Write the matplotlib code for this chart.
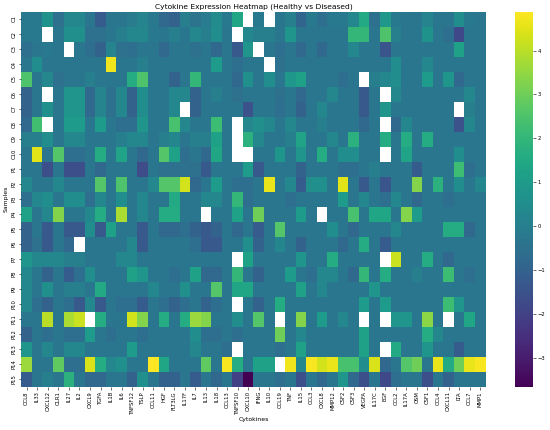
import numpy as np
import pandas as pd
import matplotlib
matplotlib.use("Agg")
import matplotlib.pyplot as plt
import seaborn as sns

nan = np.nan

cytokines = ["CCL8", "IL33", "CXCL12", "OLR1", "IL27", "IL2", "CXCL9", "TGFA", "IL1B", "IL6",
             "TNFSF12", "TSLP", "CCL11", "HGF", "FLT3LG", "IL17F", "IL7", "IL13", "IL18", "CCL13",
             "TNFSF10", "CXCL10", "IFNG", "IL10", "CCL19", "TNF", "IL15", "CCL3", "CXCL8", "MMP12",
             "CSF2", "CSF3", "VEGFA", "IL17C", "EGF", "CCL2", "IL17A", "OSM", "CSF1", "CCL4",
             "CXCL11", "LTA", "CCL7", "MMP1"]

samples = ["C1", "C2", "C3", "C4", "C5", "C6", "C7", "C8", "C9", "C10",
           "P1", "P2", "P3", "P4", "P5", "P6", "P7", "P8", "P9", "P10",
           "P11", "P12", "P13", "P14", "P15"]

C1 = [-0.2, -0.2, 0.7, -0.5, 0.3, 0.3, -0.3, -1.2, -0.3, -0.3, -0.1, 0.2, -0.2, -0.8, -1.0, 0.0, -0.4, -0.1, 0.4, -0.2, 1.4, nan,
      -0.2, nan, -0.3, 0.0, -0.9, -0.2, -0.6, -0.2, -0.2, 0.3, 1.5, -0.5, 0.9, -0.2, -0.3, -0.3, 0.2, -0.3, -0.3, 0.5, -0.2, -0.3]
C2 = [-0.2, -0.2, nan, -0.3, 0.6, 0.6, -0.5, -0.5, -0.3, 0.0, 0.3, 0.3, -0.2, -0.3, 0.0, -0.3, 0.3, 0.0, 0.5, -0.3, nan, 0.3,
      0.0, 0.0, -0.3, 0.8, -0.3, -0.3, -0.3, -0.3, -0.3, 2.0, 2.0, -0.3, 2.5, 0.0, -0.3, -0.3, 0.7, -0.3, -0.6, -1.8, -0.3, -0.3]
C3 = [-0.6, -0.3, -0.2, -0.3, nan, -0.3, -0.6, -1.0, 0.2, -0.5, -0.6, -0.3, -0.3, -0.8, -0.3, -0.3, -0.5, -0.3, -0.8, -0.3, -1.3, 0.8,
      nan, -0.3, -0.6, -0.3, -0.8, -0.3, -0.8, -0.3, -0.3, 0.3, -0.3, -0.3, -1.4, -0.3, -0.3, -0.3, -0.3, -0.3, -0.3, 1.2, -0.3, -0.3]
C4 = [-0.3, 0.5, -0.3, -0.3, -0.3, -0.3, -0.3, -0.3, 4.7, -0.3, -0.3, 0.0, -0.3, -0.3, -0.3, -0.3, -0.3, -0.3, 1.0, -0.3, -0.6, -0.3,
      -0.3, nan, -0.5, -0.3, -0.3, -0.3, -0.3, -0.3, -0.3, -0.3, -0.3, -0.3, -0.3, 0.5, -0.3, -0.3, 0.3, -0.3, -0.3, -0.3, -0.3, -0.3]
C5 = [2.5, -0.3, 0.3, -0.5, -0.3, -0.3, 0.0, -0.3, -0.3, -0.3, 1.6, 2.5, -0.3, -0.3, -1.0, -0.3, 2.0, -0.3, -0.3, -0.3, -0.8, 0.6,
      -0.3, 0.5, -0.3, 0.9, 1.2, -0.3, -0.3, -0.3, -0.6, -0.3, nan, 0.0, 0.3, 0.5, -0.3, -0.3, 1.0, -0.3, 0.8, -0.8, -0.3, -0.3]
C6 = [-1.0, -0.3, nan, -0.3, 0.8, 0.8, -0.8, 0.2, -0.5, 0.3, -1.0, 0.5, -0.3, -0.3, 0.3, 0.3, -1.0, -0.3, 0.0, -0.3, -0.5, -0.3,
      -0.3, -0.3, -0.5, -0.3, -0.8, -0.3, -0.3, 0.3, -0.3, -0.3, -1.3, -0.3, nan, 0.3, -0.3, -0.3, -0.3, -0.3, -0.3, -0.3, 0.3, -0.3]
C7 = [-1.0, -0.3, 0.6, -0.3, 0.8, 0.8, -0.8, 0.2, -0.5, 0.3, -1.0, 0.5, -0.3, -0.3, 0.3, nan, -1.0, -0.3, -0.3, -0.3, -0.3, -1.5,
      -0.3, -0.3, -0.6, -0.3, -1.0, -0.3, 0.3, -0.3, -0.3, -0.3, -1.3, -0.3, 0.8, -0.3, -0.3, -0.3, -0.3, -0.3, -0.3, nan, 0.0, -0.3]
C8 = [-0.8, 2.3, nan, -0.3, 1.0, 1.0, -0.3, 1.0, -0.3, -0.6, -0.6, 0.8, -0.3, -0.3, 2.4, 0.3, -0.3, -0.3, 2.2, -0.3, nan, 0.3,
      0.6, 0.3, -0.3, 0.3, -0.3, -0.3, 0.0, -0.3, -0.3, -0.3, -0.8, -0.3, nan, -0.8, 0.3, -0.3, -0.3, -0.3, -0.3, -1.5, 0.3, -0.3]
C9 = [0.0, 0.0, 0.5, -0.3, 0.3, 0.3, -0.3, -0.3, -0.3, 0.0, 0.3, 0.3, -0.3, 0.0, 0.3, -0.3, 0.0, 0.0, 1.2, -0.3, nan, 1.8,
      0.3, -0.3, -0.3, 0.0, 1.3, -0.3, -0.3, 0.3, -0.3, 1.8, -0.3, -0.3, 1.6, -0.3, 1.6, -0.3, 1.6, -0.3, -0.3, -0.3, -0.3, -0.3]
C10 = [-0.3, 4.5, -0.3, 2.6, -0.6, -0.6, -0.3, 1.6, -0.3, 1.3, -0.3, -0.8, -0.3, 2.6, 1.2, -0.6, -0.3, -0.8, 1.4, -0.3, nan, nan,
       -0.3, -0.3, 0.8, -0.3, 0.8, -0.3, 1.6, -0.3, 0.5, 0.5, -0.3, -0.3, nan, -0.3, 1.3, -0.3, -0.3, -0.3, -0.3, 0.5, -0.3, -0.3]
P1 = [-0.3, -0.3, -1.6, -0.3, -1.6, -1.6, -0.3, -0.8, -0.3, -0.3, -0.3, -1.7, -0.3, -0.5, -0.5, -0.5, -0.5, -1.3, -0.3, -0.3, -0.3, 1.0,
      -1.3, -0.3, -0.3, -0.3, -1.0, -0.3, -0.3, -0.3, -0.6, -0.6, -0.3, 0.0, -0.3, -0.3, -0.3, -1.2, -0.3, -0.3, -0.3, 2.2, -0.6, -0.3]
P2 = [0.3, -0.3, -0.3, 0.3, -0.3, -0.3, -0.3, 2.6, -0.3, 2.5, -0.3, -0.3, 0.3, 2.6, 2.6, 4.3, -0.8, -0.3, 1.0, -0.3, -0.6, -0.6,
      -0.3, 4.6, -0.3, 0.3, -1.2, 0.6, 0.6, -0.3, 4.5, -0.3, -1.3, -0.3, -1.4, -0.3, -0.3, 3.3, -0.3, 1.8, -0.3, 0.5, -0.3, 0.3]
P3 = [-0.6, 0.3, 0.5, -0.3, 0.5, 0.5, -0.6, 0.3, -0.3, 0.5, -0.3, 0.3, -0.3, -0.3, 1.5, -0.3, -0.3, 0.3, 0.3, -0.3, 2.0, -0.6,
      -0.3, -0.3, -0.3, -0.6, -0.3, -0.3, -0.3, -0.3, 1.0, -0.3, 0.3, -0.3, -0.6, 0.3, -0.3, -0.8, -0.3, -0.3, -0.6, -0.3, -0.3, -0.3]
P4 = [1.2, -0.3, 0.3, 3.3, -0.3, -0.3, 0.3, 1.6, -0.3, 3.8, -0.3, 0.3, -0.3, 1.6, 1.6, -0.3, -0.3, nan, -0.3, -0.3, 1.2, -0.3,
      3.0, -0.3, -0.3, -0.3, 1.0, -0.3, nan, -0.3, -0.3, 2.4, -0.3, 1.4, 1.4, -0.3, 3.3, 1.0, -0.3, -0.3, -0.3, -0.3, -0.3, -0.3]
P5 = [-1.0, -0.3, -1.3, -0.3, -1.3, -1.3, 0.5, -1.3, 1.2, -0.3, -0.3, -1.3, -0.3, -0.8, -0.8, -0.6, -1.0, -1.3, -1.0, -0.3, -0.8, -0.3,
      -1.2, -0.3, 2.6, -0.3, -0.3, -0.3, -0.3, 0.5, -0.3, -0.8, -0.3, -0.3, -0.3, 0.3, -0.3, -0.3, -0.3, -0.3, 1.6, 1.6, -0.8, -0.3]
P6 = [-1.0, -0.5, -1.3, -0.3, -0.8, nan, -0.3, -0.3, -0.3, -0.3, 0.3, -1.3, -0.3, -0.3, -0.3, -0.3, -0.6, -1.3, -1.3, -0.3, -0.3, 0.6,
      -1.0, -0.3, 0.3, -0.3, -1.0, -0.3, -0.3, -0.3, -0.8, -0.3, 1.6, -0.3, -1.2, -0.3, -0.3, -0.3, -0.3, -0.3, -0.3, -0.3, -0.3, -0.3]
P7 = [0.8, 0.3, 0.3, 0.3, 0.0, 0.0, -0.3, -0.3, -0.3, 0.3, 0.3, -0.3, -0.3, -0.3, -0.3, -0.3, -0.3, -0.3, -0.3, -0.3, nan, 1.2,
      -0.3, -0.3, -0.3, -0.3, 0.8, -0.3, -0.3, 1.6, -0.3, -0.3, -0.3, -0.3, nan, 4.2, -0.3, -0.3, 1.6, -0.3, -0.8, -0.3, -0.3, -0.3]
P8 = [0.3, -0.3, -1.0, -0.3, -1.2, -0.6, 0.5, -0.3, -0.3, -0.3, 1.2, 0.8, -0.3, -0.3, -0.6, -0.3, 1.2, -0.8, -0.8, -0.3, 2.0, -0.3,
      -1.0, -0.3, -0.3, 1.0, -0.3, -0.6, 0.3, 0.3, -0.3, -0.8, 2.0, -0.3, 1.6, -0.3, -0.3, 0.0, -0.3, -0.3, 2.2, -0.3, -0.6, -0.3]
P9 = [0.3, -0.3, 0.6, -0.3, 0.0, 0.0, -0.3, 1.5, -0.3, -0.3, -0.3, -0.3, 0.3, -0.3, -0.3, 0.6, -0.3, -0.3, 2.6, -0.3, 1.4, 1.4,
      -0.3, -0.3, -0.3, -0.3, 1.2, -0.3, 0.3, -0.3, -0.3, -0.3, -0.3, 0.8, -0.3, -0.3, -0.3, -0.3, -0.3, -0.3, -0.3, -0.3, -0.3, -0.3]
P10 = [0.3, -0.6, -1.0, -0.3, -0.6, -1.3, 0.3, -1.3, -0.3, -0.6, -0.6, -1.2, -0.3, -0.6, -1.0, -0.6, -0.3, -1.0, -0.6, -0.3, nan, -0.3,
       -1.0, -0.3, 1.6, -0.3, -0.3, -0.3, -0.3, -0.3, -0.3, -0.3, 1.0, -0.3, 1.0, -0.3, -0.3, -0.3, -0.3, -0.3, 2.2, 0.8, -0.3, -0.3]
P11 = [-0.3, -0.3, 4.0, -0.3, 3.8, 4.2, nan, 1.6, -0.3, -0.3, 4.3, 3.3, -0.3, 1.6, -0.3, 1.6, 3.6, 3.3, -0.3, -0.3, 0.5, -0.3,
       2.6, -0.3, nan, -0.3, 3.3, -0.3, 1.0, -0.3, 0.3, -0.3, nan, -0.3, nan, 0.8, 0.8, -0.3, 3.4, -0.3, nan, -0.3, 1.4, -0.3]
P12 = [-1.0, -0.3, -0.6, -0.3, -0.6, -0.6, 1.0, -0.3, -0.6, -0.3, -0.3, -0.6, -0.3, -0.3, -0.3, -0.3, 0.5, -0.6, -0.6, -0.3, -0.6, -0.3,
       -0.3, -0.3, 3.0, -0.3, 0.3, -0.3, -0.3, -0.3, -0.3, -0.3, 1.2, -0.3, -0.3, -0.3, -0.3, -0.3, 1.6, 0.3, -0.3, -0.3, -0.3, -0.3]
P13 = [0.8, -0.3, 0.3, -0.3, 0.3, 0.3, -0.3, -0.3, -0.3, -0.3, 1.0, -0.3, -0.3, -0.3, -0.3, -0.3, 0.3, -0.3, -0.3, -0.6, nan, -0.3,
       -0.3, -0.3, -0.6, -0.3, 1.2, -0.3, -0.3, -0.3, -0.3, -0.3, 1.2, -0.3, nan, 1.5, -0.3, -0.3, 0.8, -0.3, -0.3, -1.2, -0.3, -0.3]
P14 = [3.6, -0.3, -0.3, 2.8, -0.6, -0.6, 4.4, 1.6, 0.3, 0.6, -0.3, -0.3, 4.89, 1.4, -0.3, -0.3, -0.3, 2.8, -0.3, 4.8, 1.6, -0.3,
       1.2, 1.2, nan, 4.7, 0.3, 4.8, 4.3, 4.6, 2.4, 2.4, 0.5, 4.4, -0.8, -0.3, 2.6, 3.0, -0.3, 4.6, 1.5, 3.0, 4.6, 4.8]
P15 = [-1.2, -0.3, 0.0, -0.3, 1.8, -0.3, -0.8, -0.8, -0.3, -0.3, -1.0, 0.6, -0.3, -1.0, -1.0, -0.3, -1.2, -0.3, -0.8, -0.3, -2.0, -3.66,
       -0.3, -0.3, -0.6, -0.3, -1.6, -0.3, -0.8, -0.3, 0.8, -0.8, -1.6, -0.3, -1.8, -0.6, -0.3, -0.3, -1.6, -0.3, -1.0, -0.3, -0.3, -0.3]

rows = [C1, C2, C3, C4, C5, C6, C7, C8, C9, C10,
        P1, P2, P3, P4, P5, P6, P7, P8, P9, P10,
        P11, P12, P13, P14, P15]
df = pd.DataFrame(rows, index=samples, columns=cytokines)

W, H = 550, 430
fig = plt.figure(figsize=(W / 100, H / 100), dpi=100)
ax = fig.add_axes([21.4 / W, 1 - 386.5 / H, 464.1 / W, 375 / H])
cax = fig.add_axes([515 / W, 1 - 386.5 / H, 18 / W, 375 / H])

sns.heatmap(df, cmap="viridis", ax=ax, cbar_ax=cax,
            xticklabels=True, yticklabels=True)

ax.set_title("Cytokine Expression Heatmap (Healthy vs Diseased)", fontsize=5.4, pad=2.5)
ax.set_xlabel("Cytokines", fontsize=4.4, labelpad=2)
ax.set_ylabel("Samples", fontsize=4.4, labelpad=2)
ax.tick_params(axis="both", labelsize=3.8, length=1.8, width=0.4, pad=1.5)
plt.setp(ax.get_xticklabels(), rotation=90)
plt.setp(ax.get_yticklabels(), rotation=90, va="center")
cax.tick_params(labelsize=3.8, length=1.8, width=0.4, pad=1.5)

fig.savefig("out.png", dpi=100)
